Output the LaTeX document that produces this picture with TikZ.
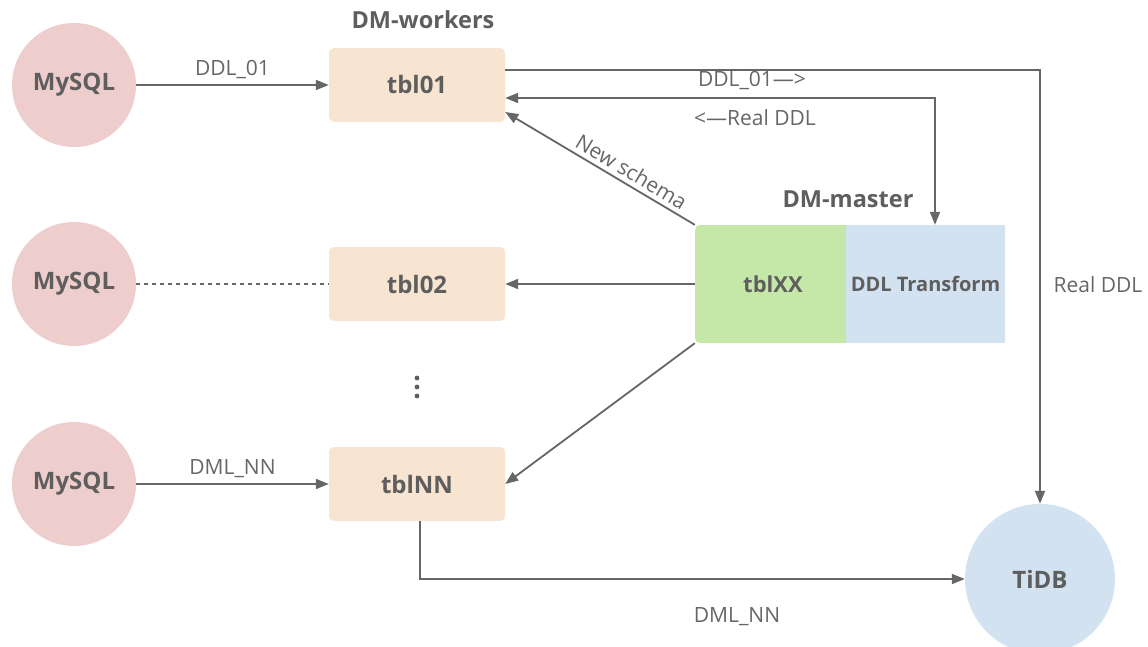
\documentclass[tikz,border=0pt]{standalone}
\usepackage{fontspec}
\setmainfont{Open Sans}
\usepackage{xcolor}
\usetikzlibrary{arrows.meta}
\definecolor{linegray}{HTML}{666666}
\definecolor{textgray}{HTML}{5E5E5E}
\definecolor{mysqlpink}{HTML}{EECDCD}
\definecolor{tblorange}{HTML}{F8E5D1}
\definecolor{mastergreen}{HTML}{C5E8A8}
\definecolor{tidbblue}{HTML}{D3E2F0}
\tikzstyle{dbnode} = [circle, fill=mysqlpink, minimum size=124pt, inner sep=0pt,
text=textgray, font=\fontsize{24}{28}\selectfont\bfseries]
\tikzstyle{tblbox} = [rectangle, fill=tblorange, rounded corners=5pt,
minimum width=176pt, minimum height=74pt, text=textgray, font=\fontsize{24}{28}\selectfont\bfseries]
\tikzstyle{masterbox} = [rectangle, minimum height=118pt, inner sep=0pt,
text=textgray, font=\fontsize{20}{24}\selectfont\bfseries]
\tikzstyle{grouptitle} = [text=textgray, font=\fontsize{23.5}{28}\selectfont\bfseries]
\tikzstyle{flowlabel} = [text=linegray, font=\fontsize{21}{25}\selectfont]
\tikzstyle{flow} = [draw=linegray, line width=1.8pt, -{Triangle[length=13pt,width=10pt]}]
\tikzstyle{backflow} = [draw=linegray, line width=1.8pt, {Triangle[length=13pt,width=10pt]}-]
\tikzstyle{bothflow} = [draw=linegray, line width=1.8pt,
{Triangle[length=13pt,width=10pt]}-{Triangle[length=13pt,width=10pt]}]

\begin{document}
\begin{tikzpicture}[x=1pt,y=-1pt]
    \useasboundingbox (0,0) rectangle (1148,647);
    \clip (0,0) rectangle (1148,647);
    \node [dbnode] (mysql01) at (74,85) {MySQL};
    \node [dbnode] (mysql02) at (74,284) {MySQL};
    \node [dbnode] (mysqlNN) at (74,484) {MySQL};

    \node [grouptitle] (workers) at (423,20) {DM-workers};
    \node [tblbox] (tbl01) at (417,85) {tbl01};
    \node [tblbox] (tbl02) at (417,284) {tbl02};
    \node [tblbox] (tblNN) at (417,484) {tblNN};
    \foreach \y in {378,387,396}
        \fill [textgray] (417,\y) circle (2.4pt);

    \node [grouptitle] (master) at (848,199) {DM-master};
    \node [masterbox, fill=mastergreen, rounded corners=5pt, minimum width=156pt,
        font=\fontsize{22}{26}\selectfont\bfseries] (tblXX) at (773,284) {tblXX};
    \node [masterbox, fill=tidbblue, minimum width=159pt] (transform) at (925.5,284) {DDL Transform};

    \node [dbnode, fill=tidbblue, minimum size=150pt] (tidb) at (1040,579) {TiDB};

    \draw [flow] (mysql01) -- node [flowlabel, above=2pt] {DDL\_01} (tbl01);
    \draw [linegray, line width=1.4pt, dash pattern=on 4pt off 4pt] (mysql02) -- (tbl02);
    \draw [flow] (mysqlNN) -- node [flowlabel, above=2pt] {DML\_NN} (tblNN);

    \draw [flow] ([yshift=15pt]tbl01.east) -| (tidb.north);
    \draw [bothflow] ([yshift=-13pt]tbl01.east) -| ([xshift=9.5pt]transform.north);
    \node [flowlabel] (ddlout) at (752,81) {DDL\_01—>};
    \node [flowlabel] (ddlback) at (755,118) {<—Real DDL};
    \node [flowlabel] (realddl) at (1098,285) {Real DDL};

    \draw [backflow] ([yshift=-27pt]tbl01.east) -- node [flowlabel, sloped, above=1pt, pos=0.63] {New schema} (tblXX.north west);
    \draw [flow] (tblXX.west) -- (tbl02.east);
    \draw [flow] (tblXX.south west) -- (tblNN.east);

    \draw [flow] ([xshift=3pt]tblNN.south) |- (tidb.west);
    \node [flowlabel] (dmlout) at (737,617) {DML\_NN};
\end{tikzpicture}
\end{document}
